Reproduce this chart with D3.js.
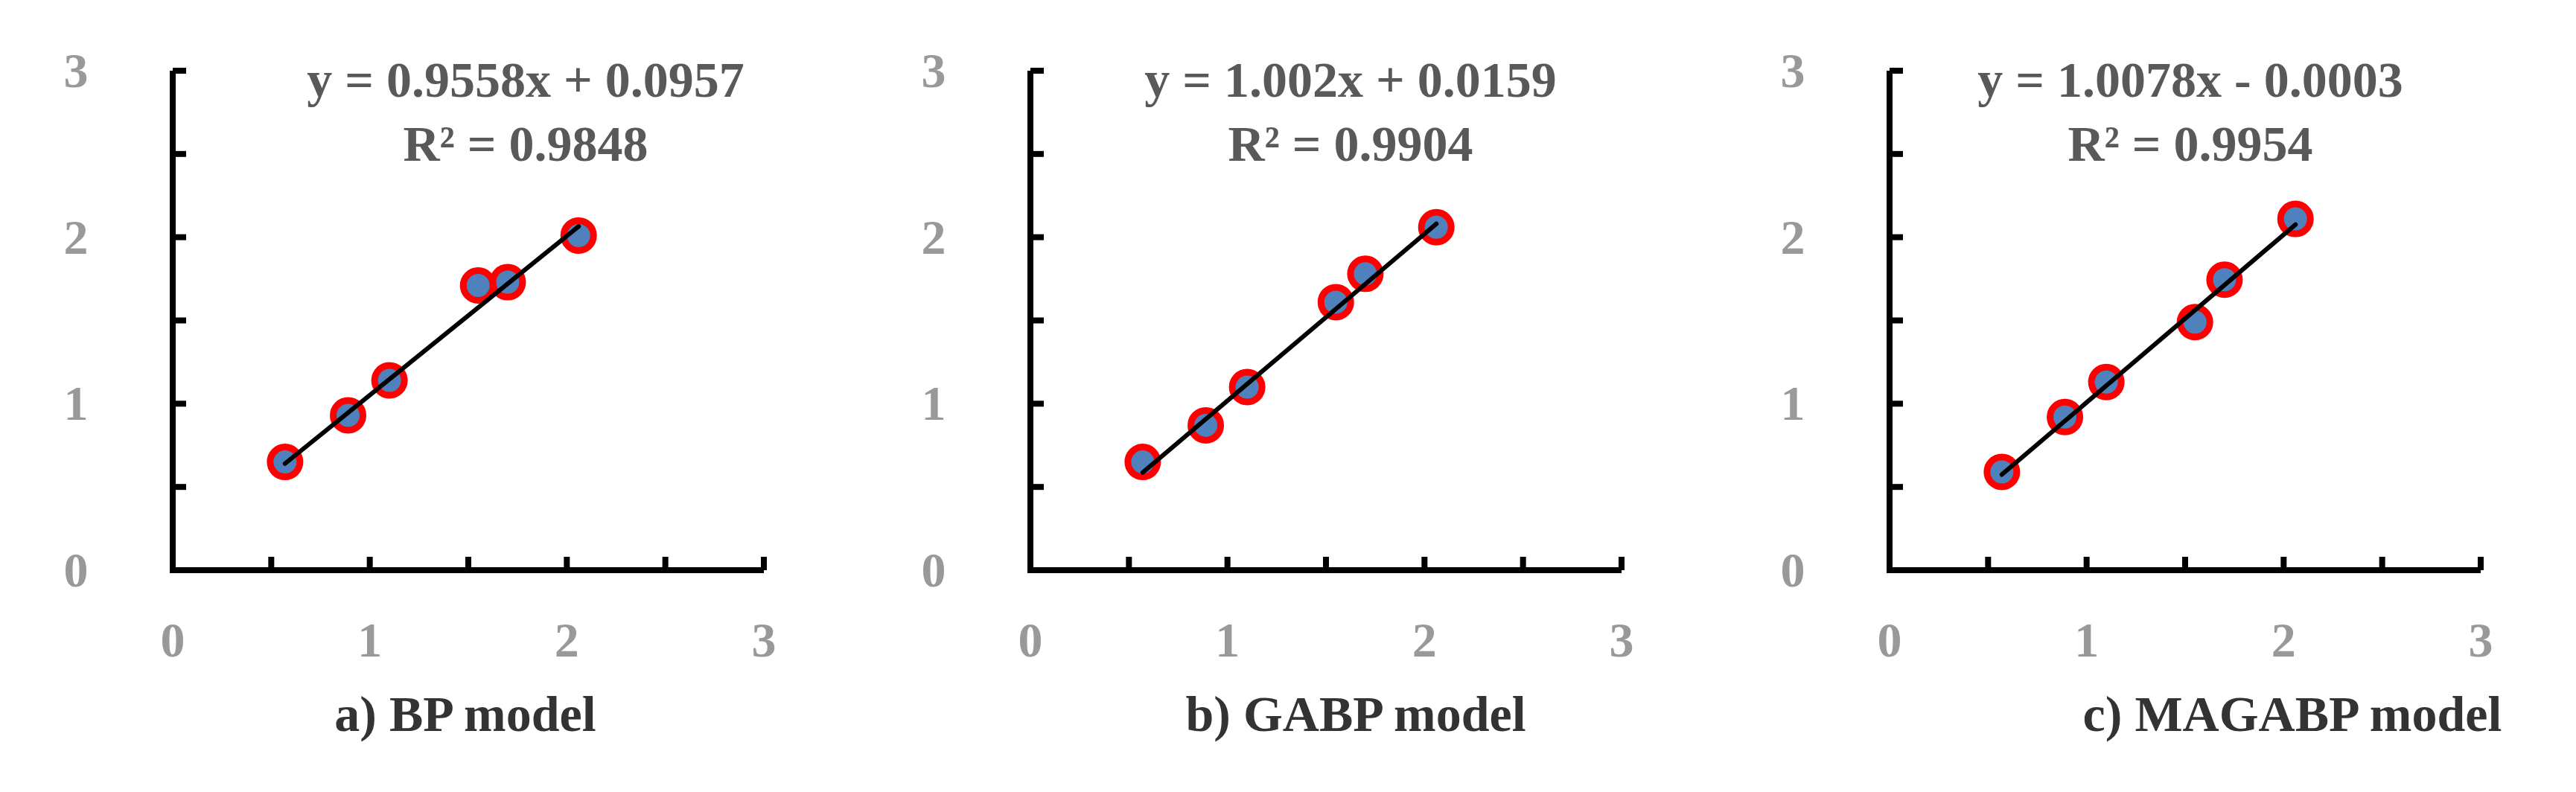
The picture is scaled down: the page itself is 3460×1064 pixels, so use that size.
<!DOCTYPE html>
<html><head><meta charset="utf-8">
<script src="https://cdn.jsdelivr.net/npm/d3@7"></script>
<style>body{margin:0;background:#fff}</style></head>
<body><svg id="c" width="3460" height="1064"></svg>
<script>
const xValues = [0.57, 0.89, 1.10, 1.55, 1.70, 2.06];
const yBP = [0.65, 0.93, 1.14, 1.71, 1.73, 2.01];
const yGABP = [0.65, 0.87, 1.10, 1.61, 1.78, 2.06];
const yMAGABP = [0.59, 0.92, 1.13, 1.49, 1.745, 2.11];
const titles = ["a) BP model", "b) GABP model", "c) MAGABP model"];
const equations = ["y = 0.9558x + 0.0957", "y = 1.002x + 0.0159", "y = 1.0078x - 0.0003"];
const r2Labels = ["R² = 0.9848", "R² = 0.9904", "R² = 0.9954"];
const slopes = [0.9558, 1.002, 1.0078];
const intercepts = [0.0957, 0.0159, -0.0003];
const tickLabels = [0, 1, 2, 3];

const series = [yBP, yGABP, yMAGABP];
const lefts = [232, 1384, 2538];
const eqCenters = [706, 1814, 2942];
const titleCenters = [625, 1821, 3079];
const W = 794, plotTop = 95, plotBottom = 766;
const svg = d3.select("#c");
const font = "'Liberation Serif','Times New Roman',serif";

series.forEach((ys, i) => {
  const x = d3.scaleLinear().domain([0, 3]).range([lefts[i], lefts[i] + W]);
  const y = d3.scaleLinear().domain([0, 3]).range([plotBottom, plotTop]);
  const g = svg.append("g");
  const minor = d3.range(0, 3.01, 0.5);
  g.append("line").attr("x1", x(0)).attr("x2", x(3)).attr("y1", y(0)).attr("y2", y(0)).attr("stroke", "#000").attr("stroke-width", 8);
  g.append("line").attr("x1", x(0)).attr("x2", x(0)).attr("y1", y(0) + 4).attr("y2", y(3)).attr("stroke", "#000").attr("stroke-width", 8);
  minor.forEach(v => {
    if (v > 0) {
      g.append("line").attr("x1", x(v)).attr("x2", x(v)).attr("y1", y(0)).attr("y2", y(0) - 18).attr("stroke", "#000").attr("stroke-width", 8);
      g.append("line").attr("x1", x(0)).attr("x2", x(0) + 18).attr("y1", y(v)).attr("y2", y(v)).attr("stroke", "#000").attr("stroke-width", 8);
    }
  });
  tickLabels.forEach(v => {
    g.append("text").attr("x", x(v)).attr("y", 882).attr("text-anchor", "middle")
      .attr("font-family", font).attr("font-weight", "bold").attr("font-size", 66).attr("fill", "#999").text(v);
    g.append("text").attr("x", x(0) - 130).attr("y", y(v) + 22).attr("text-anchor", "middle")
      .attr("font-family", font).attr("font-weight", "bold").attr("font-size", 66).attr("fill", "#999").text(v);
  });
  g.selectAll("circle").data(xValues.map((xv, k) => [xv, ys[k]])).enter().append("circle")
    .attr("cx", d => x(d[0])).attr("cy", d => y(d[1])).attr("r", 20)
    .attr("fill", "#4f81bd").attr("stroke", "#ff0000").attr("stroke-width", 9);
  const x0 = d3.min(xValues), x1 = d3.max(xValues);
  g.append("line").attr("x1", x(x0)).attr("y1", y(slopes[i] * x0 + intercepts[i]))
    .attr("x2", x(x1)).attr("y2", y(slopes[i] * x1 + intercepts[i]))
    .attr("stroke", "#000").attr("stroke-width", 6).attr("stroke-linecap", "round");
  g.append("text").attr("x", eqCenters[i]).attr("y", 130).attr("text-anchor", "middle")
    .attr("font-family", font).attr("font-weight", "bold").attr("font-size", 68).attr("fill", "#595959").text(equations[i]);
  g.append("text").attr("x", eqCenters[i]).attr("y", 216).attr("text-anchor", "middle")
    .attr("font-family", font).attr("font-weight", "bold").attr("font-size", 68).attr("fill", "#595959").text(r2Labels[i]);
  g.append("text").attr("x", titleCenters[i]).attr("y", 982).attr("text-anchor", "middle")
    .attr("font-family", font).attr("font-weight", "bold").attr("font-size", 68).attr("fill", "#333").text(titles[i]);
});
</script></body></html>
